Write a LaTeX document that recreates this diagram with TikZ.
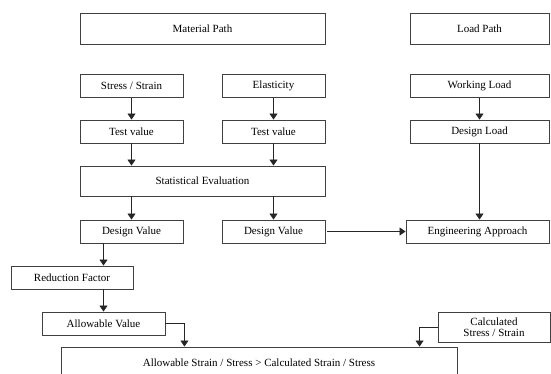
\documentclass[tikz,border=0pt]{standalone}
\usepackage{fontspec}
\setmainfont{Liberation Serif}
\usepackage{tikz}
\usetikzlibrary{arrows.meta,positioning}

\begin{document}
\begin{tikzpicture}[
  x=1pt, y=-1pt,
  font=\fontsize{11}{12}\selectfont,
  box/.style  = {draw=black!75, line width=0.9pt, align=center,
                 inner sep=0pt, fill=white},
  wide/.style = {box, minimum width=245pt, minimum height=31pt},
  small/.style= {box, minimum width=103pt, minimum height=23pt},
  load/.style = {box, minimum width=139pt, minimum height=23pt},
  ar/.style   = {-{Triangle[length=6pt,width=8pt]}, line width=0.8pt, draw=black!85},
]
\clip (0,0) rectangle (551,374);

% ---- headers ---------------------------------------------------------------
\node[wide] (matpath)  at (202.5,28.5) {Material Path};
\node[load] (loadpath) at (479.5,28.5) [minimum height=31pt] {Load Path};

% ---- material path ---------------------------------------------------------
\node[small] (stress) at (131.5,86)    {Stress / Strain};
\node[small] (testa)  at (131.5,131.5) {Test value};
\node[small] (elast)  at (273.5,86)    {Elasticity};
\node[small] (testb)  at (273.5,131.5) {Test value};
\node[wide]  (stat)   at (202.5,181) [minimum height=30pt] {Statistical Evaluation};
\node[small] (dvala)  at (131.5,231.5) {Design Value};
\node[small] (dvalb)  at (273.5,231.5) {Design Value};

\draw[ar] (stress) -- (testa);
\draw[ar] (elast) -- (testb);
\draw[ar] (testa.south) -- (testa.south |- stat.north);
\draw[ar] (testb.south) -- (testb.south |- stat.north);
\draw[ar] (dvala.north |- stat.south) -- (dvala.north);
\draw[ar] (dvalb.north |- stat.south) -- (dvalb.north);

% ---- load path -------------------------------------------------------------
\node[load] (work)   at (479.5,86)    {Working Load};
\node[load] (dload)  at (479.5,131.5) {Design Load};
\node[box]  (engapp) at (477.5,231.5) [minimum width=143pt, minimum height=23pt] {Engineering Approach};

\draw[ar] (work) -- (dload);
\draw[ar] (dload.south) -- (dload.south |- engapp.north);
\draw[ar, shorten <=2pt] (dvalb.east) -- (engapp.west);

% ---- reduction -------------------------------------------------------------
\node[box] (redfac) at (72,277.5)   [minimum width=122pt, minimum height=23pt] {Reduction Factor};
\node[box] (allow)  at (103.5,323.5) [minimum width=123pt, minimum height=23pt] {Allowable Value};
\node[box] (calc)   at (494,327)    [minimum width=112pt, minimum height=30pt,
                                      font=\fontsize{11}{10.5}\selectfont] {Calculated\\Stress / Strain};

\draw[ar] (allow.north |- dvala.south) -- (allow.north |- redfac.north);
\draw[ar] (allow.north |- redfac.south) -- (allow.north);

% ---- check -----------------------------------------------------------------
\node[box] (cond) at (259,362.5) [minimum width=396pt, minimum height=31pt]
  {Allowable Strain / Stress > Calculated Strain / Stress};

\draw[ar] (allow.east) -- ++(19,0) coordinate (k1) -- (k1 |- cond.north);
\draw[ar] (calc.west) -- ++(-18,0) coordinate (k2) -- (k2 |- cond.north);

\end{tikzpicture}
\end{document}
